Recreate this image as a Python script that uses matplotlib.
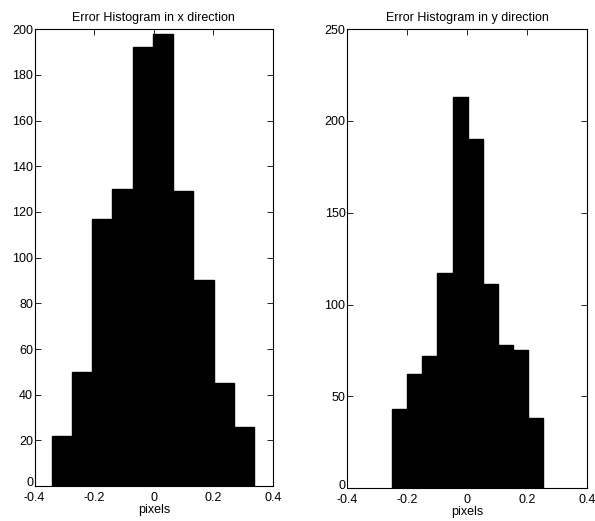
import numpy as np
import matplotlib.pyplot as plt
import matplotlib.transforms as mtransforms

plt.rcParams['font.family'] = ['Liberation Sans', 'DejaVu Sans']

# error histogram in x direction
x_edges = np.linspace(-0.342, 0.336, 11)
x_counts = [22, 50, 117, 130, 192, 198, 129, 90, 45, 26]

# error histogram in y direction
y_edges = np.linspace(-0.25, 0.254, 11)
y_counts = [43, 62, 72, 117, 213, 190, 111, 78, 75, 38]

xticks = [-0.4, -0.2, 0, 0.2, 0.4]
xtick_labels = ["-0.4", "-0.2", "0", "0.2", "0.4"]

fig = plt.figure(figsize=(5.95, 5.21), dpi=100)
ax1 = fig.add_axes([0.058, 0.067, 0.401, 0.877])
ax2 = fig.add_axes([0.583, 0.063, 0.404, 0.881])


def draw(ax, edges, counts, ymax, ystep, title):
    ax.bar(edges[:-1], counts, width=np.diff(edges), align="edge",
           color="black", edgecolor="black", linewidth=1.0)
    ax.set_xlim(-0.4, 0.4)
    ax.set_ylim(0, ymax)
    ax.set_xticks(xticks)
    ax.set_xticklabels(xtick_labels)
    ax.set_yticks(np.arange(0, ymax + 1, ystep))
    ax.tick_params(direction="in", top=True, right=True, labelsize=9,
                   length=4, width=0.6)
    ax.tick_params(axis="x", pad=4)
    ax.tick_params(axis="y", pad=1)
    # nudge the bottom "0" up a little so it clears the "-0.4" below it
    lab0 = ax.get_yticklabels()[0]
    lab0.set_transform(lab0.get_transform() +
                       mtransforms.ScaledTranslation(0, 3 / 72, fig.dpi_scale_trans))
    for s in ax.spines.values():
        s.set_linewidth(0.8)
    ax.set_title(title, fontsize=9, pad=6)
    ax.set_xlabel("pixels", fontsize=9, labelpad=0)


draw(ax1, x_edges, x_counts, 200, 20, "Error Histogram in x direction")
draw(ax2, y_edges, y_counts, 250, 50, "Error Histogram in y direction")

fig.savefig("out.png", dpi=100)
